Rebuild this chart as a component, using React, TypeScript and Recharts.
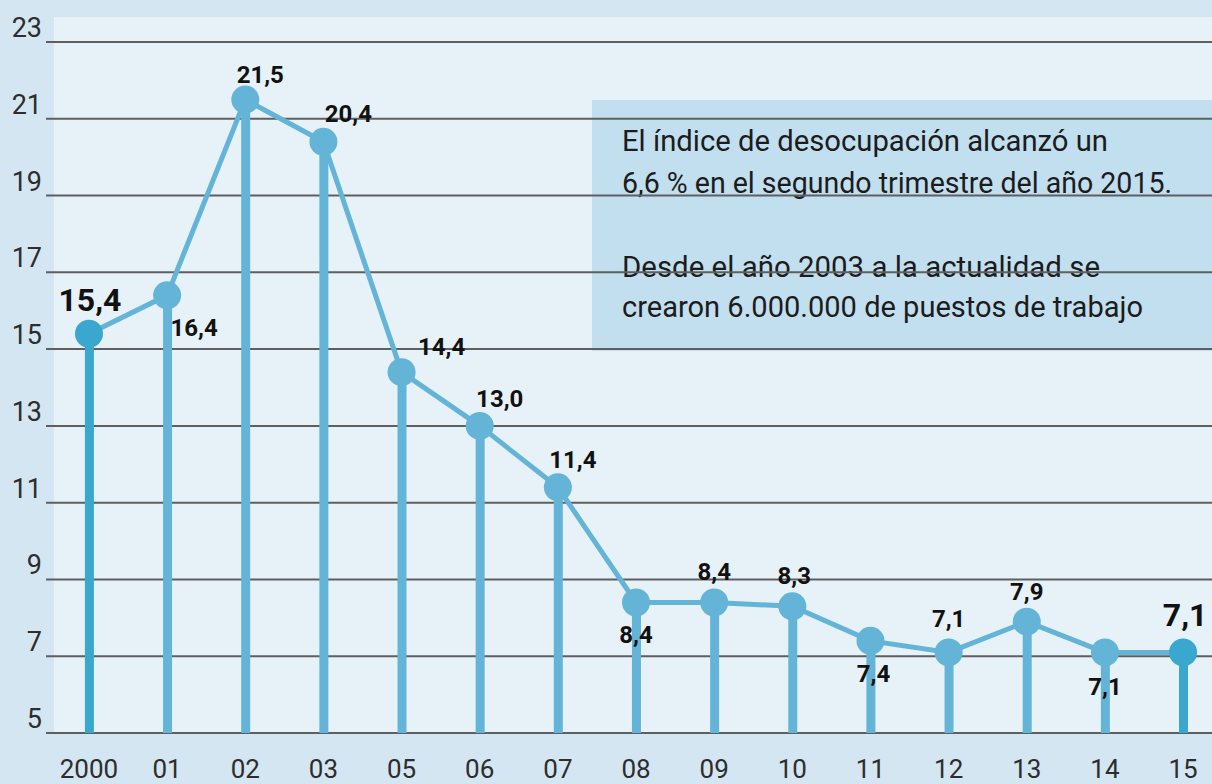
import React from 'react';
import { ComposedChart, Bar, Line, XAxis, YAxis, CartesianGrid, Cell } from 'recharts';

// Tasa de desocupación (%), 2000-2015
const years = ['2000', '01', '02', '03', '05', '06', '07', '08', '09', '10', '11', '12', '13', '14', '15'];
const desocupacion = [15.4, 16.4, 21.5, 20.4, 14.4, 13.0, 11.4, 8.4, 8.4, 8.3, 7.4, 7.1, 7.9, 7.1, 7.1];
const valueLabels = ['15,4', '16,4', '21,5', '20,4', '14,4', '13,0', '11,4', '8,4', '8,4', '8,3', '7,4', '7,1', '7,9', '7,1', '7,1'];
const yTicks = [5, 7, 9, 11, 13, 15, 17, 19, 21, 23];

const noteLines = [
  'El índice de desocupación alcanzó un',
  '6,6 % en el segundo trimestre del año 2015.',
  'Desde el año 2003 a la actualidad se',
  'crearon 6.000.000 de puestos de trabajo',
];

// layout of the note: baseline and rendered width of each line
const noteBaselines = [151, 193, 277, 317];
const noteWidths = [486, 550, 478, 521];

// label placement around each point (dx, dy)
const labelOffsets: [number, number][] = [
  [1, -34], [27, 33], [15, -25], [25, -28], [40, -25], [20, -27], [15, -27],
  [0, 33], [0, -30], [2, -30], [3, 33], [0, -33], [0, -30], [0, 35], [2, -37],
];

const W = 1212;
const H = 784;
const LIGHT = '#63b4d6';
const DARK = '#3aa7cf';

const data = years.map((year, i) => ({ i, year, value: desocupacion[i] }));
const isEdge = (i: number) => i === 0 || i === years.length - 1;

const XTick = (props: any) => {
  const { x, y, payload } = props;
  return (
    <text x={x} y={y + 37} textAnchor="middle" fontSize={26} fill="#2d2d2d" fontFamily="Roboto, sans-serif">
      {years[payload.value]}
    </text>
  );
};

const YTick = (props: any) => {
  const { y, payload } = props;
  return (
    <text x={42} y={y - 5} textAnchor="end" fontSize={27} fill="#2d2d2d" fontFamily="Roboto, sans-serif">
      {payload.value}
    </text>
  );
};

const renderDot = (props: any) => {
  const { cx, cy, index } = props;
  const edge = isEdge(index);
  const [dx, dy] = labelOffsets[index];
  return (
    <g key={`dot-${index}`}>
      <circle cx={cx} cy={cy} r={14} fill={edge ? DARK : LIGHT} />
      <text
        x={cx + dx}
        y={cy + dy}
        textAnchor="middle"
        dominantBaseline="central"
        fontSize={edge ? 32 : 24}
        fontWeight={700}
        fill="#111"
        fontFamily="Roboto, sans-serif"
      >
        {valueLabels[index]}
      </text>
    </g>
  );
};

export default function App() {
  return (
    <div style={{ position: 'relative', width: W, height: H, background: '#d4e6f2', overflow: 'hidden' }}>
      <style>{'body{margin:0}'}</style>
      <svg width={W} height={H} style={{ position: 'absolute', left: 0, top: 0 }}>
        <rect x={54} y={17} width={W - 54} height={733 - 17} fill="#e6f1f8" />
        <rect x={592} y={100} width={W - 592} height={251} fill="#c2dff0" />
        {noteLines.map((line, k) => (
          <text
            key={k}
            x={622}
            y={noteBaselines[k]}
            fontSize={30}
            textLength={noteWidths[k]}
            lengthAdjust="spacingAndGlyphs"
            fill="#1c1c1c"
            fontFamily="Roboto, sans-serif"
          >
            {line}
          </text>
        ))}
      </svg>
      <div style={{ position: 'absolute', left: 0, top: 0 }}>
        <ComposedChart width={W} height={H} data={data} margin={{ top: 42, right: 0, bottom: 0, left: 0 }}>
          <CartesianGrid vertical={false} stroke="#5f5f5f" strokeWidth={2} />
          <XAxis
            dataKey="i"
            type="number"
            domain={[-0.55, 14.37]}
            allowDataOverflow
            ticks={years.map((_, i) => i)}
            interval={0}
            axisLine={false}
            tickLine={false}
            height={51}
            tick={<XTick />}
          />
          <YAxis
            domain={[5, 23]}
            allowDataOverflow
            ticks={yTicks}
            interval={0}
            axisLine={false}
            tickLine={false}
            width={46}
            tick={<YTick />}
          />
          <Bar dataKey="value" barSize={9} isAnimationActive={false}>
            {data.map((d) => (
              <Cell key={d.i} fill={isEdge(d.i) ? DARK : LIGHT} />
            ))}
          </Bar>
          <Line
            type="linear"
            dataKey="value"
            stroke={LIGHT}
            strokeWidth={5}
            dot={renderDot}
            activeDot={false}
            isAnimationActive={false}
          />
        </ComposedChart>
      </div>
    </div>
  );
}
